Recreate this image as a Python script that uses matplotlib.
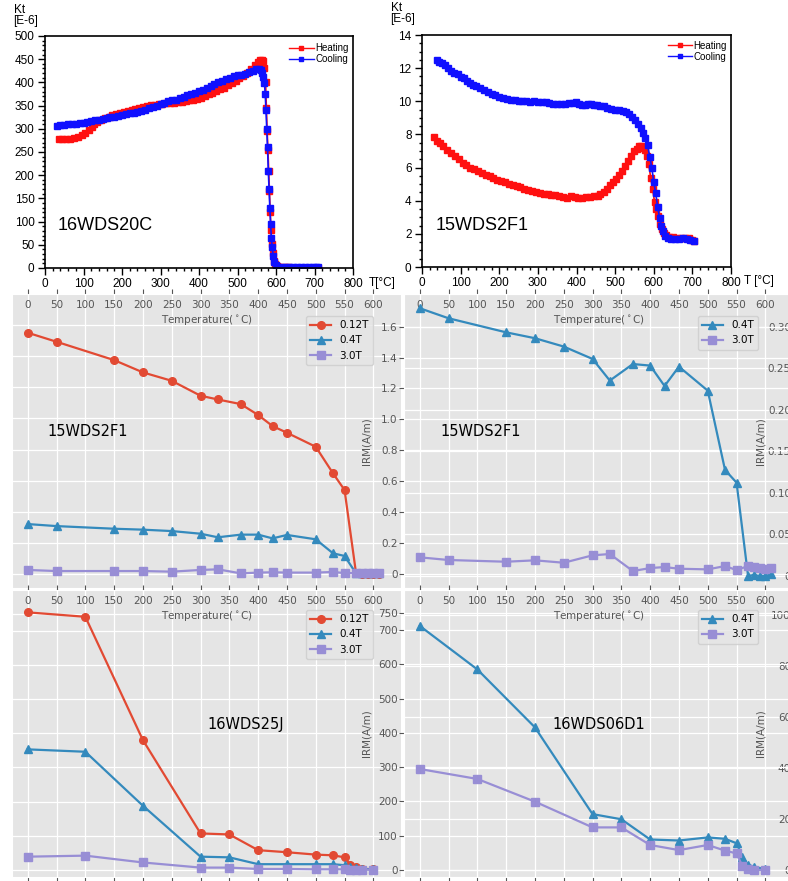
import matplotlib
matplotlib.use("Agg")
import matplotlib.pyplot as plt
from matplotlib.ticker import MultipleLocator, AutoMinorLocator

# ---------------- susceptibility vs temperature (Kt, 1E-6) ----------------
# 16WDS20C
t20c_heat = [37, 45, 55, 65, 75, 85, 95, 105, 115, 122,
             128, 135, 145, 155, 165, 175, 185, 195, 205, 215,
             225, 235, 245, 255, 265, 275, 285, 295, 305, 315,
             325, 335, 345, 355, 365, 375, 385, 395, 405, 415,
             425, 435, 445, 455, 465, 475, 485, 495, 505, 515,
             525, 535, 545, 552, 558, 563, 567, 570, 573, 575,
             577, 579, 581, 583, 585, 587, 589, 591, 594, 598,
             603, 610, 620, 630, 640, 650, 660, 670, 680, 690,
             700, 710]
k20c_heat = [277, 278, 278, 279, 281, 283, 287, 292, 298, 304,
             310, 315, 320, 323, 326, 329, 332, 334, 336, 338,
             341, 343, 345, 347, 349, 351, 352, 353, 354, 355,
             356, 356, 357, 358, 359, 361, 363, 365, 367, 370,
             374, 377, 381, 385, 389, 394, 399, 404, 409, 414,
             420, 428, 437, 444, 448, 449, 446, 430, 400, 345,
             295, 255, 210, 165, 120, 82, 52, 32, 16, 8,
             5, 3, 2, 2, 1, 1, 1, 1, 1, 1,
             1, 1]
t20c_cool = [32, 40, 50, 60, 70, 80, 90, 100, 110, 120,
             130, 140, 150, 160, 170, 180, 190, 200, 210, 220,
             230, 240, 250, 260, 270, 280, 290, 300, 310, 320,
             330, 340, 350, 360, 370, 380, 390, 400, 410, 420,
             430, 440, 450, 460, 470, 480, 490, 500, 510, 520,
             530, 540, 548, 555, 560, 564, 567, 570, 572, 574,
             576, 578, 580, 582, 584, 586, 588, 590, 593, 596,
             600, 605, 615, 625, 635, 645, 655, 665, 675, 685,
             695, 705, 710]
k20c_cool = [307, 308, 309, 310, 311, 311, 312, 313, 314, 316,
             318, 320, 322, 323, 325, 326, 328, 330, 331, 333,
             335, 337, 339, 341, 344, 347, 350, 353, 356, 359,
             361, 363, 366, 369, 372, 375, 378, 381, 384, 388,
             392, 396, 400, 404, 407, 410, 413, 415, 417, 419,
             422, 425, 428, 429, 426, 420, 412, 398, 375, 340,
             300, 260, 210, 170, 130, 95, 65, 45, 25, 12,
             6, 3, 2, 2, 1.5, 1.5, 1.5, 1.5, 1.5, 1.5,
             1.5, 1.5, 1.5]

# 15WDS2F1
t2f1_heat = [30, 38, 46, 55, 65, 75, 85, 95, 105, 115,
             125, 135, 145, 155, 165, 175, 185, 195, 205, 215,
             225, 235, 245, 255, 265, 275, 285, 295, 305, 315,
             325, 335, 345, 355, 365, 375, 385, 395, 405, 415,
             425, 435, 445, 455, 462, 470, 478, 486, 494, 502,
             510, 518, 526, 534, 542, 550, 556, 562, 567, 572,
             577, 582, 587, 592, 597, 602, 607, 612, 617, 622,
             627, 632, 640, 650, 660, 670, 680, 690, 700, 705]
k2f1_heat = [7.86, 7.62, 7.47, 7.30, 7.08, 6.88, 6.68, 6.50, 6.30, 6.14,
             6.00, 5.90, 5.78, 5.66, 5.55, 5.47, 5.36, 5.26, 5.17, 5.10,
             5.02, 4.96, 4.88, 4.80, 4.70, 4.63, 4.57, 4.50, 4.45, 4.41,
             4.38, 4.35, 4.32, 4.26, 4.20, 4.18, 4.28, 4.20, 4.16, 4.19,
             4.22, 4.24, 4.28, 4.30, 4.40, 4.55, 4.72, 4.92, 5.10, 5.32,
             5.55, 5.80, 6.10, 6.40, 6.70, 6.98, 7.15, 7.28, 7.30, 7.18,
             7.05, 6.70, 6.20, 5.40, 4.70, 3.95, 3.50, 3.05, 2.62, 2.30,
             2.05, 1.92, 1.82, 1.80, 1.78, 1.76, 1.74, 1.72, 1.62, 1.55]
t2f1_cool = [38, 45, 52, 60, 68, 76, 84, 92, 100, 108,
             116, 124, 132, 140, 150, 160, 170, 180, 190, 200,
             210, 220, 230, 240, 250, 260, 270, 280, 290, 300,
             310, 320, 330, 340, 350, 360, 370, 380, 390, 398,
             406, 414, 422, 430, 438, 446, 454, 462, 470, 480,
             490, 500, 510, 520, 528, 536, 544, 552, 560, 566,
             572, 578, 584, 590, 595, 600, 605, 610, 615, 620,
             625, 630, 636, 645, 655, 665, 675, 685, 695, 705]
k2f1_cool = [12.50, 12.38, 12.32, 12.18, 12.00, 11.85, 11.72, 11.62, 11.48, 11.38,
             11.25, 11.12, 11.00, 10.90, 10.80, 10.70, 10.58, 10.45, 10.38, 10.28,
             10.22, 10.15, 10.10, 10.05, 10.02, 10.00, 10.03, 9.98, 9.99, 9.96,
             9.95, 9.93, 9.88, 9.85, 9.83, 9.84, 9.86, 9.88, 9.92, 9.96,
             9.85, 9.78, 9.80, 9.86, 9.84, 9.80, 9.76, 9.72, 9.70, 9.62,
             9.55, 9.50, 9.48, 9.44, 9.35, 9.22, 9.05, 8.85, 8.60, 8.38,
             8.10, 7.80, 7.35, 6.62, 5.98, 5.15, 4.45, 3.65, 2.95, 2.50,
             2.15, 1.90, 1.75, 1.70, 1.68, 1.70, 1.73, 1.70, 1.64, 1.57]

# ---------------- thermal demagnetisation of IRM (A/m) ----------------
temp_a = [0, 50, 150, 200, 250, 300, 330, 370, 400, 425, 450, 500, 530, 550,
          570, 580, 590, 600, 610]
irm_2f1_012 = [1.551, 1.493, 1.375, 1.296, 1.242, 1.146, 1.122, 1.092, 1.022, 0.951,
               0.908, 0.818, 0.647, 0.540, 0.004, 0.003, 0.003, 0.003, 0.003]
irm_2f1_04 = [0.321, 0.308, 0.291, 0.285, 0.276, 0.259, 0.236, 0.253, 0.253, 0.229,
              0.251, 0.223, 0.133, 0.116, 0.004, 0.004, 0.004, 0.004, 0.004]
irm_2f1_30 = [0.026, 0.019, 0.019, 0.019, 0.015, 0.026, 0.030, 0.004, 0.009, 0.011,
              0.009, 0.009, 0.013, 0.006, 0.006, 0.006, 0.006, 0.006, 0.006]
irm_2f1b_04 = [1.719, 1.654, 1.563, 1.525, 1.471, 1.391, 1.251, 1.358, 1.348, 1.216,
               1.341, 1.186, 0.673, 0.591, -0.013, -0.006, -0.013, -0.013, -0.002]
irm_2f1b_30 = [0.0225, 0.0193, 0.0172, 0.0189, 0.0160, 0.0249, 0.0265, 0.0060, 0.0096,
               0.0108, 0.0088, 0.0080, 0.0120, 0.0072, 0.0120, 0.0108, 0.0100, 0.0080,
               0.0092]

temp_b = [0, 100, 200, 300, 350, 400, 450, 500, 530, 550, 560, 570, 580, 600]
irm_25j_012 = [754, 741, 380, 107, 104, 58, 52, 45, 43, 37, 15, 8, 4, 2]
irm_25j_04 = [353, 346, 188, 39, 37, 17, 17, 17, 17, 14, 10, 5, 3, 2]
irm_25j_30 = [39, 42, 22, 7, 7, 3, 3, 2, 2, 2, 1, 1, 1, 1]
irm_06d1_04 = [712, 585, 416, 163, 148, 89, 86, 95, 91, 78, 39, 15, 10, 2]
irm_06d1_30 = [39.6, 35.7, 26.8, 16.7, 16.7, 9.8, 7.8, 9.8, 7.6, 6.5, 1.6, 0.3, 0, 0]

temp_ticks = list(range(0, 601, 50))
temp_labels = [str(t) for t in temp_ticks]
small_ticks = [0, 0.2, 0.4, 0.6, 0.8, 1.0, 1.2, 1.4, 1.6]
small_labels = ["0", "0.2", "0.4", "0.6", "0.8", "1.0", "1.2", "1.4", "1.6"]
tiny_ticks = [0, 0.05, 0.10, 0.15, 0.20, 0.25, 0.30]
tiny_labels = ["0", "0.05", "0.10", "0.15", "0.20", "0.25", "0.30"]
big_ticks = [0, 100, 200, 300, 400, 500, 600, 700, 750]
big_labels = [str(v) for v in big_ticks]
pct_ticks = [0, 20, 40, 60, 80, 100]
pct_labels = [str(v) for v in pct_ticks]

# ---------------- figure ----------------
W, H = 788, 881
fig = plt.figure(figsize=(W / 100, H / 100), dpi=100)
fig.patch.set_facecolor("white")


def rect(x0, y0, x1, y1):
    return [x0 / W, 1 - y1 / H, (x1 - x0) / W, (y1 - y0) / H]


def ftext(x, y, s, **kw):
    fig.text(x / W, 1 - y / H, s, **kw)


SANS = "Liberation Sans"


def kt_panel(r, th, kh, tc, kc, ymax, ystep, yminor, name, name_xy, leg_anchor):
    ax = fig.add_axes(r)
    ax.plot(th, kh, "-s", color="#FF1010", lw=1.2, ms=3.8, label="Heating")
    ax.plot(tc, kc, "-s", color="#1010FF", lw=1.2, ms=3.8, label="Cooling")
    ax.set_xlim(0, 800)
    ax.set_ylim(0, ymax)
    ax.xaxis.set_major_locator(MultipleLocator(100))
    ax.xaxis.set_minor_locator(AutoMinorLocator(5))
    ax.yaxis.set_major_locator(MultipleLocator(ystep))
    ax.yaxis.set_minor_locator(AutoMinorLocator(yminor))
    ax.tick_params(which="both", direction="out", top=False, right=False,
                   labelsize=8.5, labelfontfamily=SANS, width=1.0)
    ax.tick_params(which="major", length=5, pad=2.5)
    ax.tick_params(which="minor", length=2.5)
    for s in ax.spines.values():
        s.set_linewidth(1.2)
    ax.text(*name_xy, name, transform=ax.transAxes, fontsize=13, family=SANS,
            ha="center", va="center")
    leg = ax.legend(loc="upper right", bbox_to_anchor=leg_anchor, frameon=False,
                    prop={"family": SANS, "size": 7}, handlelength=2.5,
                    handletextpad=0.15, labelspacing=0.1, borderpad=0,
                    borderaxespad=0)
    for h in leg.legend_handles:
        h.set_markersize(3.0)
        h.set_linewidth(1.0)
    return ax


kt_panel(rect(45, 36, 353, 268), t20c_heat, k20c_heat, t20c_cool, k20c_cool,
         500, 50, 5, "16WDS20C", (0.195, 0.185), (0.985, 0.970))
kt_panel(rect(422, 35, 731, 267), t2f1_heat, k2f1_heat, t2f1_cool, k2f1_cool,
         14, 2, 4, "15WDS2F1", (0.194, 0.181), (0.987, 0.975))

ftext(14, 10, "Kt", family=SANS, fontsize=8.5, va="center")
ftext(13, 21, "[E-6]", family=SANS, fontsize=8.5, va="center")
ftext(391, 8, "Kt", family=SANS, fontsize=8.5, va="center")
ftext(390, 19, "[E-6]", family=SANS, fontsize=8.5, va="center")
ftext(369, 283, "T[°C]", family=SANS, fontsize=8.5, va="center")
ftext(744, 281, "T [°C]", family=SANS, fontsize=8.5, va="center")

# ---------------- IRM panels ----------------
BG = "#E5E5E5"
INK = "#555555"
RED, BLUE, PURPLE = "#E24A33", "#348ABD", "#988ED5"
XLIM = (-27.3, 648.0)
FS = 7.5


def irm_panel(x0, y0, x1, y1, ylim, yticks, ylabels):
    ax = fig.add_axes(rect(x0, y0, x1, y1), facecolor=BG)
    ax.set_axisbelow(True)
    ax.grid(True, color="white", lw=0.9)
    for s in ax.spines.values():
        s.set_color("white")
    ax.set_xlim(*XLIM)
    ax.set_ylim(*ylim)
    ax.set_xticks(temp_ticks)
    ax.set_xticklabels(temp_labels)
    ax.set_yticks(yticks)
    ax.set_yticklabels(ylabels)
    ax.tick_params(axis="x", top=True, bottom=True, labeltop=True, labelbottom=False,
                   direction="out", length=3.5, width=0.8, color=INK,
                   labelcolor=INK, labelsize=FS, pad=-15)
    hpx = y1 - y0
    ax.text(0.5, 1 - 26 / hpx, r"Temperature($^\circ$C)", transform=ax.transAxes,
            ha="center", va="center", fontsize=FS, color=INK)
    return ax


def left_ticks(ax, show):
    if show:
        ax.tick_params(axis="y", left=True, right=False, labelleft=True,
                       labelright=False, direction="out", length=3.5, width=0.8,
                       color=INK, labelcolor=INK, labelsize=FS, pad=1)
        ax.text(-38 / 389, 0.5, "IRM(A/m)", transform=ax.transAxes, rotation=90,
                ha="center", va="center", fontsize=FS, color=INK, clip_on=False)
    else:
        ax.tick_params(axis="y", left=False, right=False, labelleft=False,
                       labelright=False)


def right_twin(ax, ylim, yticks, ylabels):
    # secondary scale sits underneath: it carries the grey background and its own grid
    ax2 = ax.twinx()
    ax2.set_ylim(*ylim)
    ax2.set_yticks(yticks)
    ax2.set_yticklabels(ylabels, ha="right")
    ax2.tick_params(axis="y", right=True, left=False, length=0, pad=-1.5,
                    labelcolor=INK, labelsize=FS)
    ax2.grid(True, axis="y", color="white", lw=0.9)
    ax2.set_axisbelow(True)
    for s in ax2.spines.values():
        s.set_color("white")
    ax2.patch.set_visible(True)
    ax2.patch.set_facecolor(BG)
    ax.set_zorder(ax2.get_zorder() + 1)
    ax.patch.set_visible(False)
    ax.text(357 / 389, 0.5, "IRM(A/m)", transform=ax.transAxes, rotation=90,
            ha="center", va="center", fontsize=FS, color=INK, clip_on=False)
    return ax2


def legend(ax, handles, anchor):
    ax.legend(handles=handles, loc="upper right", bbox_to_anchor=anchor,
              borderaxespad=0, fontsize=FS, facecolor=BG, edgecolor="#CCCCCC",
              framealpha=0.8)


MK = 5.5
LW = 1.6

# 15WDS2F1, three fields
ax = irm_panel(12, 294, 401, 588, (-0.09, 1.80), small_ticks, small_labels)
left_ticks(ax, False)
h1, = ax.plot(temp_a, irm_2f1_012, "-o", color=RED, ms=MK, lw=LW, label="0.12T")
h2, = ax.plot(temp_a, irm_2f1_04, "-^", color=BLUE, ms=MK, lw=LW, label="0.4T")
h3, = ax.plot(temp_a, irm_2f1_30, "-s", color=PURPLE, ms=MK, lw=LW, label="3.0T")
legend(ax, [h1, h2, h3], (0.928, 0.925))
ax.text(0.195, 0.531, "15WDS2F1", transform=ax.transAxes, fontsize=10.5,
        ha="center", va="center")

# 15WDS2F1, two fields on separate scales
ax = irm_panel(404, 294, 793, 588, (-0.0906, 1.811), small_ticks, small_labels)
ax2 = right_twin(ax, (-0.0144, 0.3394), tiny_ticks, tiny_labels)
left_ticks(ax, True)
h2, = ax.plot(temp_a, irm_2f1b_04, "-^", color=BLUE, ms=MK, lw=LW, label="0.4T")
h3, = ax.plot(temp_a, irm_2f1b_30, "-s", color=PURPLE, ms=MK, lw=LW, label="3.0T",
              transform=ax2.transData)
legend(ax, [h2, h3], (0.910, 0.925))
ax.text(0.198, 0.531, "15WDS2F1", transform=ax.transAxes, fontsize=10.5,
        ha="center", va="center")

# 16WDS25J, three fields
ax = irm_panel(12, 590, 401, 877, (-20.5, 819.4), big_ticks, big_labels)
left_ticks(ax, False)
h1, = ax.plot(temp_b, irm_25j_012, "-o", color=RED, ms=MK, lw=LW, label="0.12T")
h2, = ax.plot(temp_b, irm_25j_04, "-^", color=BLUE, ms=MK, lw=LW, label="0.4T")
h3, = ax.plot(temp_b, irm_25j_30, "-s", color=PURPLE, ms=MK, lw=LW, label="3.0T")
legend(ax, [h1, h2, h3], (0.928, 0.930))
ax.text(0.602, 0.530, "16WDS25J", transform=ax.transAxes, fontsize=10.5,
        ha="center", va="center")

# 16WDS06D1, two fields on separate scales
ax = irm_panel(404, 590, 793, 877, (-20.4, 816.6), big_ticks, big_labels)
ax2 = right_twin(ax, (-2.75, 109.8), pct_ticks, pct_labels)
left_ticks(ax, True)
h2, = ax.plot(temp_b, irm_06d1_04, "-^", color=BLUE, ms=MK, lw=LW, label="0.4T")
h3, = ax.plot(temp_b, irm_06d1_30, "-s", color=PURPLE, ms=MK, lw=LW, label="3.0T",
              transform=ax2.transData)
legend(ax, [h2, h3], (0.910, 0.930))
ax.text(0.501, 0.530, "16WDS06D1", transform=ax.transAxes, fontsize=10.5,
        ha="center", va="center")

fig.savefig("out.png", dpi=100)
